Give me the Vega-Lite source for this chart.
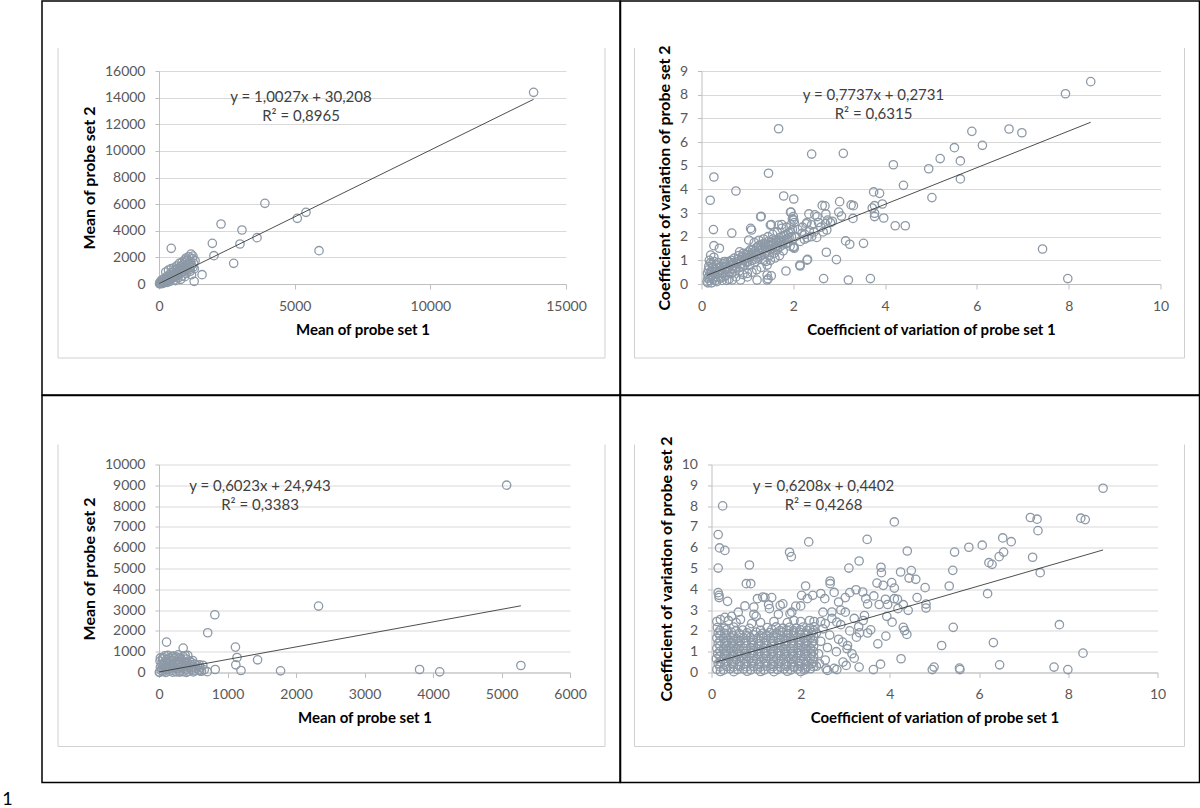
{
"$schema":"https://vega.github.io/schema/vega-lite/v6.json",
"padding":{"left":2,"top":0,"right":0,"bottom":0},
"background":"white",
"config":{
"font":"Lato",
"view":{"stroke":null},
"axis":{"domainColor":"#bfbfbf","tickColor":"#bfbfbf","gridColor":"#d9d9d9","labelColor":"#595959","labelFontSize":14,"labelFont":"Lato","titleFont":"Lato","titleFontSize":15,"titleFontWeight":"bold","titleColor":"#000000","labelFlush":false,"labelOverlap":false},
"axisX":{"grid":false,"tickSize":5,"labelPadding":10,"titlePadding":9},
"axisY":{"grid":true,"tickSize":4,"labelPadding":10,"titlePadding":7,"titleFontSize":16},
"title":{"font":"Lato"}
},
"title":{"text":"1","orient":"bottom","anchor":"start","dx":-39,"offset":8,"fontSize":18,"fontWeight":"normal","color":"#000000"},
"datasets":{
"p1":[
{"x":13806,"y":14397},{"x":3903,"y":6059},{"x":2286,"y":4507},{"x":3058,"y":4056},{"x":5417,"y":5383},{"x":5097,"y":4933},{"x":3612,"y":3480},{"x":2985,"y":3005},{"x":1966,"y":3055},{"x":2024,"y":2128},{"x":2752,"y":1552},{"x":5898,"y":2504},{"x":451,"y":2679},{"x":1587,"y":701},{"x":1296,"y":200},
{"x":20,"y":20},{"x":50,"y":60},{"x":80,"y":30},{"x":100,"y":150},{"x":130,"y":90},{"x":160,"y":200},{"x":190,"y":120},{"x":220,"y":280},{"x":250,"y":170},{"x":280,"y":350},{"x":300,"y":230},{"x":330,"y":420},{"x":360,"y":300},{"x":390,"y":500},{"x":420,"y":350},{"x":450,"y":600},{"x":480,"y":420},{"x":510,"y":680},{"x":540,"y":500},{"x":570,"y":760},{"x":600,"y":560},{"x":630,"y":850},{"x":660,"y":640},{"x":690,"y":930},{"x":720,"y":700},{"x":750,"y":1000},{"x":780,"y":780},{"x":810,"y":1100},{"x":840,"y":850},{"x":870,"y":1200},{"x":900,"y":950},{"x":930,"y":1300},{"x":960,"y":1050},{"x":1000,"y":1400},{"x":1040,"y":1150},{"x":1080,"y":1550},{"x":1120,"y":1250},{"x":1160,"y":1700},{"x":1200,"y":1400},{"x":1240,"y":1900},{"x":1280,"y":1550},{"x":1180,"y":2250},{"x":1100,"y":2050},{"x":1250,"y":2100},{"x":1050,"y":1800},{"x":980,"y":1650},{"x":880,"y":1450},{"x":780,"y":1300},{"x":680,"y":1150},{"x":580,"y":1000},{"x":480,"y":850},{"x":380,"y":700},{"x":280,"y":550},{"x":180,"y":400},{"x":100,"y":300},{"x":60,"y":200},{"x":30,"y":100},{"x":250,"y":900},{"x":350,"y":1050},{"x":450,"y":1150},{"x":550,"y":1200},{"x":650,"y":1350},{"x":750,"y":1550},{"x":850,"y":1650},{"x":950,"y":1800},{"x":400,"y":200},{"x":550,"y":300},{"x":700,"y":450},{"x":850,"y":600},{"x":1000,"y":800},{"x":1150,"y":950},{"x":1300,"y":1150},{"x":1200,"y":700},{"x":950,"y":550},{"x":800,"y":350},{"x":600,"y":250},{"x":300,"y":120},{"x":150,"y":50},{"x":1330,"y":1750},{"x":1000,"y":1950},{"x":1150,"y":1100},{"x":1250,"y":1250}
],
"p2":[
{"x":8.48,"y":8.55},{"x":7.93,"y":8.04},{"x":7.98,"y":0.23},{"x":7.43,"y":1.48},{"x":6.70,"y":6.55},{"x":6.98,"y":6.39},{"x":5.89,"y":6.45},{"x":6.12,"y":5.86},{"x":5.51,"y":5.76},{"x":5.64,"y":5.20},{"x":5.64,"y":4.44},{"x":5.20,"y":5.30},{"x":4.95,"y":4.87},{"x":5.02,"y":3.65},{"x":4.18,"y":5.04},{"x":4.40,"y":4.17},{"x":3.75,"y":3.89},{"x":3.88,"y":3.83},{"x":3.94,"y":3.38},{"x":3.97,"y":2.79},{"x":4.22,"y":2.46},{"x":4.44,"y":2.46},{"x":3.77,"y":3.31},{"x":3.72,"y":3.21},{"x":3.77,"y":2.85},{"x":3.77,"y":2.99},{"x":3.09,"y":5.52},{"x":2.40,"y":5.49},{"x":1.68,"y":6.56},{"x":1.46,"y":4.68},{"x":0.75,"y":3.93},{"x":0.27,"y":4.52},{"x":0.19,"y":3.54},{"x":0.26,"y":2.30},{"x":0.66,"y":2.15},{"x":1.09,"y":2.28},{"x":1.30,"y":2.86},{"x":1.79,"y":3.72},{"x":2.01,"y":3.59},{"x":1.95,"y":3.04},{"x":1.52,"y":2.51},{"x":1.75,"y":2.51},{"x":3.01,"y":3.48},{"x":3.26,"y":3.34},{"x":3.31,"y":3.31},{"x":2.63,"y":3.32},{"x":2.69,"y":3.30},{"x":2.34,"y":2.96},{"x":2.47,"y":2.92},{"x":2.99,"y":3.04},{"x":3.05,"y":2.87},{"x":3.30,"y":2.77},{"x":2.71,"y":2.96},{"x":2.81,"y":2.59},{"x":2.73,"y":2.28},{"x":2.72,"y":1.34},{"x":2.94,"y":1.03},{"x":3.14,"y":1.82},{"x":3.23,"y":1.68},{"x":3.53,"y":1.72},{"x":2.66,"y":0.23},{"x":3.20,"y":0.17},{"x":3.68,"y":0.23},{"x":2.31,"y":1.04},{"x":2.15,"y":0.76},{"x":1.84,"y":0.55},{"x":2.51,"y":1.97},{"x":2.24,"y":1.89},{"x":2.02,"y":1.51},{"x":2.19,"y":2.14},{"x":2.28,"y":2.54},{"x":2.52,"y":2.85},
{"x":0.2,"y":1.22},{"x":0.27,"y":1.62},{"x":0.39,"y":1.51},{"x":0.27,"y":1.13},{"x":1.29,"y":2.84},{"x":1.07,"y":2.35},{"x":1.03,"y":1.86},{"x":0.49,"y":0.94},{"x":0.83,"y":1.36},{"x":0.67,"y":0.17},{"x":0.85,"y":0.17},{"x":1.21,"y":0.17},{"x":1.43,"y":0.17},{"x":1.43,"y":0.38},{"x":1.43,"y":0.8},{"x":1.0,"y":0.45},{"x":1.5,"y":2.49},{"x":1.68,"y":2.49},{"x":1.94,"y":3.03},{"x":2.01,"y":2.7},{"x":2.01,"y":1.58},{"x":2.14,"y":0.8},{"x":2.3,"y":1.01},
{"x":0.12,"y":0.1},{"x":0.14,"y":0.25},{"x":0.13,"y":0.45},{"x":0.15,"y":0.6},{"x":0.16,"y":0.75},{"x":0.18,"y":0.15},{"x":0.2,"y":0.35},{"x":0.22,"y":0.55},{"x":0.24,"y":0.7},{"x":0.2,"y":0.9},{"x":0.17,"y":1.0},{"x":0.25,"y":0.2},{"x":0.28,"y":0.4},{"x":0.3,"y":0.6},{"x":0.32,"y":0.8},{"x":0.27,"y":0.95},{"x":0.35,"y":0.3},{"x":0.33,"y":0.1},{"x":0.14,"y":0.05},{"x":0.22,"y":0.05},{"x":0.3,"y":0.15},{"x":0.38,"y":0.5},{"x":0.4,"y":0.7},{"x":0.42,"y":0.25},
{"x":0.45,"y":0.45},{"x":0.48,"y":0.85},{"x":0.5,"y":0.6},{"x":0.52,"y":0.35},{"x":0.55,"y":0.75},{"x":0.58,"y":0.95},{"x":0.6,"y":0.5},{"x":0.63,"y":0.8},{"x":0.65,"y":1.0},{"x":0.68,"y":0.65},{"x":0.7,"y":0.9},{"x":0.72,"y":1.1},{"x":0.75,"y":0.7},{"x":0.78,"y":0.95},{"x":0.8,"y":1.05},{"x":0.82,"y":0.55},{"x":0.85,"y":0.85},{"x":0.88,"y":1.15},{"x":0.9,"y":0.75},{"x":0.92,"y":1.0},{"x":0.95,"y":1.25},{"x":0.98,"y":0.9},{"x":1.0,"y":1.1},{"x":0.6,"y":0.2},{"x":0.75,"y":0.3},{"x":0.55,"y":0.15},{"x":0.9,"y":0.4},{"x":0.45,"y":0.15},
{"x":1.02,"y":1.35},{"x":1.05,"y":0.8},{"x":1.08,"y":1.2},{"x":1.1,"y":1.0},{"x":1.12,"y":1.45},{"x":1.15,"y":0.9},{"x":1.18,"y":1.3},{"x":1.2,"y":1.55},{"x":1.22,"y":1.1},{"x":1.25,"y":1.4},{"x":1.28,"y":1.65},{"x":1.3,"y":1.2},{"x":1.33,"y":1.5},{"x":1.36,"y":1.0},{"x":1.38,"y":1.7},{"x":1.4,"y":1.35},{"x":1.43,"y":1.55},{"x":1.46,"y":1.8},{"x":1.48,"y":1.2},{"x":1.5,"y":1.45},{"x":1.53,"y":1.65},{"x":1.56,"y":1.9},{"x":1.58,"y":1.3},{"x":1.6,"y":1.55},{"x":1.63,"y":1.75},{"x":1.66,"y":1.45},{"x":1.7,"y":1.95},{"x":1.72,"y":1.6},{"x":1.75,"y":1.8},{"x":1.78,"y":1.4},{"x":1.8,"y":2.05},{"x":1.83,"y":1.7},{"x":1.86,"y":1.9},{"x":1.9,"y":2.15},{"x":1.93,"y":1.6},{"x":1.96,"y":2.0},{"x":2.0,"y":1.55},{"x":1.98,"y":2.3},{"x":1.95,"y":2.5},{"x":2.02,"y":2.6},{"x":2.0,"y":2.85},{"x":1.98,"y":2.75},{"x":1.2,"y":0.6},{"x":1.3,"y":0.7},{"x":1.1,"y":0.5},{"x":1.5,"y":1.0},{"x":1.6,"y":1.1},{"x":1.7,"y":1.2},{"x":1.4,"y":0.95},{"x":1.52,"y":0.35},{"x":1.45,"y":0.22},{"x":1.0,"y":0.3},{"x":1.15,"y":1.75},{"x":1.25,"y":1.85},{"x":1.35,"y":1.9},{"x":1.55,"y":2.1},{"x":1.65,"y":2.2},{"x":1.75,"y":2.35},{"x":1.85,"y":2.4},{"x":1.45,"y":2.0},
{"x":2.05,"y":2.0},{"x":2.1,"y":2.3},{"x":2.15,"y":1.8},{"x":2.2,"y":2.4},{"x":2.25,"y":2.1},{"x":2.3,"y":2.6},{"x":2.35,"y":2.25},{"x":2.4,"y":2.5},{"x":2.45,"y":2.2},{"x":2.55,"y":2.6},{"x":2.6,"y":2.4},{"x":2.65,"y":2.2},{"x":2.7,"y":2.55},{"x":2.75,"y":2.7},{"x":2.85,"y":2.65},{"x":2.4,"y":2.0},{"x":2.3,"y":1.95},
{"x":0.16,"y":0.32},{"x":0.19,"y":0.5},{"x":0.23,"y":0.82},{"x":0.26,"y":0.3},{"x":0.29,"y":0.5},{"x":0.34,"y":0.68},{"x":0.36,"y":0.9},{"x":0.41,"y":0.55},{"x":0.44,"y":0.75},{"x":0.47,"y":0.3},{"x":0.51,"y":0.95},{"x":0.54,"y":0.5},{"x":0.57,"y":0.65},{"x":0.62,"y":0.92},{"x":0.66,"y":0.45},{"x":0.69,"y":0.78},{"x":0.73,"y":0.55},{"x":0.77,"y":0.85},{"x":0.81,"y":1.2},{"x":0.84,"y":0.7},{"x":0.87,"y":1.0},{"x":0.91,"y":1.3},{"x":0.94,"y":0.8},{"x":0.97,"y":1.1},{"x":1.01,"y":0.95},{"x":1.04,"y":1.25},{"x":1.07,"y":1.45},{"x":1.11,"y":1.15},{"x":1.14,"y":1.35},{"x":1.17,"y":1.05},{"x":1.21,"y":1.25},{"x":1.24,"y":1.6},{"x":1.27,"y":1.3},{"x":1.31,"y":1.45},{"x":1.34,"y":1.7},{"x":1.37,"y":1.25},{"x":1.41,"y":1.6},{"x":1.44,"y":1.4},{"x":1.47,"y":1.65},{"x":1.51,"y":1.75},{"x":1.54,"y":1.5},{"x":1.57,"y":1.7},{"x":1.61,"y":1.85},{"x":1.64,"y":1.6},{"x":1.68,"y":1.85},{"x":1.71,"y":1.75},{"x":1.74,"y":2.0},{"x":1.77,"y":1.65},{"x":1.81,"y":1.85},{"x":1.84,"y":2.1},{"x":1.88,"y":1.75},{"x":1.91,"y":1.95},{"x":1.94,"y":2.2}
],
"p3":[
{"x":5075,"y":9005},{"x":2329,"y":3194},{"x":815,"y":2777},{"x":711,"y":1910},{"x":110,"y":1461},{"x":353,"y":1172},{"x":1116,"y":1220},{"x":1139,"y":722},{"x":1121,"y":369},{"x":1439,"y":610},{"x":1197,"y":96},{"x":821,"y":144},{"x":1775,"y":80},{"x":3804,"y":144},{"x":4098,"y":32},{"x":5283,"y":337},{"x":590,"y":369},{"x":705,"y":40},{"x":382,"y":819},{"x":214,"y":786},{"x":491,"y":578},{"x":595,"y":80},
{"x":10,"y":20},{"x":30,"y":100},{"x":20,"y":250},{"x":40,"y":400},{"x":15,"y":550},{"x":50,"y":650},{"x":60,"y":50},{"x":80,"y":200},{"x":70,"y":350},{"x":90,"y":500},{"x":100,"y":120},{"x":120,"y":300},{"x":110,"y":620},{"x":140,"y":450},{"x":150,"y":60},{"x":160,"y":220},{"x":170,"y":380},{"x":180,"y":560},{"x":200,"y":100},{"x":210,"y":280},{"x":220,"y":680},{"x":230,"y":450},{"x":250,"y":30},{"x":260,"y":180},{"x":270,"y":350},{"x":280,"y":520},{"x":300,"y":90},{"x":310,"y":260},{"x":320,"y":430},{"x":330,"y":620},{"x":350,"y":40},{"x":360,"y":200},{"x":370,"y":360},{"x":390,"y":120},{"x":400,"y":300},{"x":410,"y":500},{"x":430,"y":60},{"x":440,"y":220},{"x":460,"y":380},{"x":480,"y":150},{"x":500,"y":280},{"x":520,"y":80},{"x":540,"y":200},{"x":560,"y":320},{"x":300,"y":700},{"x":250,"y":750},{"x":150,"y":700},{"x":60,"y":720},{"x":20,"y":700},{"x":400,"y":650},{"x":450,"y":550},{"x":5,"y":5},{"x":100,"y":10},{"x":200,"y":15},{"x":300,"y":20},{"x":400,"y":10},{"x":500,"y":30},{"x":580,"y":120},{"x":620,"y":60},{"x":660,"y":130},{"x":130,"y":820},{"x":280,"y":850},
{"x":45,"y":180},{"x":95,"y":280},{"x":135,"y":160},{"x":190,"y":330},{"x":240,"y":250},{"x":290,"y":400},{"x":340,"y":300},{"x":380,"y":450},{"x":430,"y":330},{"x":470,"y":480},{"x":520,"y":400},{"x":600,"y":250},{"x":640,"y":350},{"x":85,"y":800},{"x":190,"y":780},{"x":350,"y":780},{"x":420,"y":820}
],
"p4":[
{"x":8.78,"y":8.86},{"x":7.15,"y":7.45},{"x":7.30,"y":7.37},{"x":7.32,"y":6.82},{"x":7.20,"y":5.54},{"x":7.37,"y":4.80},{"x":8.28,"y":7.42},{"x":8.38,"y":7.35},{"x":8.33,"y":0.93},{"x":7.80,"y":2.30},{"x":7.68,"y":0.26},{"x":7.99,"y":0.14},{"x":6.53,"y":6.47},{"x":6.72,"y":6.29},{"x":6.55,"y":5.79},{"x":6.45,"y":5.57},{"x":6.07,"y":6.12},{"x":5.77,"y":6.02},{"x":6.22,"y":5.28},{"x":6.29,"y":5.20},{"x":6.19,"y":3.79},{"x":6.32,"y":1.44},{"x":6.46,"y":0.37},{"x":5.45,"y":5.79},{"x":5.41,"y":4.91},{"x":5.33,"y":4.16},{"x":5.42,"y":2.17},{"x":5.16,"y":1.30},{"x":5.56,"y":0.21},{"x":5.57,"y":0.14},{"x":4.99,"y":0.26},{"x":4.95,"y":0.14},{"x":4.39,"y":5.84},{"x":4.10,"y":7.24},{"x":3.49,"y":6.40},{"x":2.18,"y":6.28},{"x":0.25,"y":8.01},{"x":0.15,"y":6.63},{"x":0.18,"y":5.99},{"x":0.30,"y":5.87},{"x":0.15,"y":5.02},{"x":1.75,"y":5.78},{"x":1.79,"y":5.57},{"x":0.85,"y":5.17},{"x":0.78,"y":4.27},{"x":0.88,"y":4.27},{"x":3.31,"y":5.36},{"x":3.08,"y":5.02},{"x":3.80,"y":5.06},{"x":3.81,"y":4.80},{"x":4.24,"y":4.83},{"x":4.48,"y":4.90},{"x":4.58,"y":4.48},{"x":4.43,"y":4.54},{"x":4.79,"y":4.08},{"x":4.61,"y":3.60},{"x":4.81,"y":3.29},{"x":4.81,"y":3.10},{"x":4.41,"y":2.99},{"x":4.30,"y":3.26},{"x":4.04,"y":4.32},{"x":4.10,"y":4.06},{"x":3.85,"y":4.19},{"x":3.71,"y":4.30},{"x":3.64,"y":3.68},{"x":4.10,"y":3.55},{"x":4.17,"y":3.52},{"x":3.90,"y":3.52},{"x":3.95,"y":3.27},{"x":3.76,"y":3.27},{"x":4.18,"y":3.07},{"x":4.05,"y":2.42},{"x":3.93,"y":2.70},{"x":4.30,"y":2.17},{"x":4.33,"y":2.02},{"x":4.38,"y":1.83},{"x":4.25,"y":0.66},{"x":3.91,"y":1.75},{"x":3.73,"y":1.38},{"x":3.79,"y":0.40},{"x":3.63,"y":0.14},{"x":3.57,"y":2.05},{"x":3.32,"y":1.91},{"x":3.24,"y":3.98},{"x":3.39,"y":3.87},{"x":3.46,"y":3.55},{"x":3.50,"y":3.29},{"x":3.43,"y":2.74},{"x":3.31,"y":0.26},{"x":3.02,"y":0.34},{"x":3.20,"y":0.69},{"x":2.94,"y":1.46},{"x":3.04,"y":1.14},{"x":2.85,"y":3.39},{"x":3.00,"y":3.60},{"x":3.10,"y":3.84},{"x":2.75,"y":3.85},{"x":2.66,"y":4.40},{"x":2.66,"y":4.27},{"x":2.45,"y":3.80},{"x":2.54,"y":3.55},{"x":2.27,"y":3.71},{"x":2.15,"y":3.55},{"x":2.02,"y":3.71},{"x":2.11,"y":4.16},{"x":1.89,"y":3.19},{"x":1.54,"y":3.23},{"x":1.28,"y":3.26},{"x":1.30,"y":3.07},{"x":1.15,"y":3.63},{"x":1.03,"y":3.55},{"x":0.95,"y":3.15},{"x":0.36,"y":3.42},{"x":0.15,"y":3.84},{"x":0.17,"y":3.71},{"x":0.17,"y":3.60},{"x":1.76,"y":2.83},{"x":2.70,"y":2.91},{"x":2.81,"y":2.42},{"x":2.42,"y":0.42},{"x":2.57,"y":0.18},{"x":2.81,"y":0.14},{"x":1.86,"y":0.26},{"x":2.11,"y":0.18},
{"x":0.12,"y":0.15},{"x":0.27,"y":0.12},{"x":0.42,"y":0.18},{"x":0.58,"y":0.14},{"x":0.72,"y":0.17},{"x":0.88,"y":0.13},{"x":1.03,"y":0.16},{"x":1.18,"y":0.12},{"x":1.33,"y":0.18},{"x":1.48,"y":0.14},{"x":1.63,"y":0.17},{"x":1.78,"y":0.13},{"x":1.93,"y":0.16},{"x":2.08,"y":0.12},{"x":2.22,"y":0.18},
{"x":0.15,"y":0.42},{"x":0.3,"y":0.38},{"x":0.45,"y":0.43},{"x":0.6,"y":0.37},{"x":0.75,"y":0.41},{"x":0.9,"y":0.44},{"x":1.05,"y":0.38},{"x":1.2,"y":0.42},{"x":1.35,"y":0.39},{"x":1.5,"y":0.43},{"x":1.65,"y":0.37},{"x":1.8,"y":0.41},{"x":1.95,"y":0.44},{"x":2.1,"y":0.38},{"x":2.25,"y":0.42},
{"x":0.11,"y":0.66},{"x":0.26,"y":0.63},{"x":0.41,"y":0.68},{"x":0.56,"y":0.62},{"x":0.71,"y":0.66},{"x":0.86,"y":0.69},{"x":1.01,"y":0.63},{"x":1.16,"y":0.67},{"x":1.31,"y":0.64},{"x":1.46,"y":0.68},{"x":1.61,"y":0.62},{"x":1.76,"y":0.66},{"x":1.91,"y":0.69},{"x":2.06,"y":0.63},{"x":2.21,"y":0.67},
{"x":0.14,"y":0.9},{"x":0.29,"y":0.88},{"x":0.44,"y":0.93},{"x":0.59,"y":0.87},{"x":0.74,"y":0.91},{"x":0.89,"y":0.94},{"x":1.04,"y":0.88},{"x":1.19,"y":0.92},{"x":1.34,"y":0.89},{"x":1.49,"y":0.93},{"x":1.64,"y":0.87},{"x":1.79,"y":0.91},{"x":1.94,"y":0.94},{"x":2.09,"y":0.88},{"x":2.24,"y":0.92},
{"x":0.12,"y":1.16},{"x":0.27,"y":1.13},{"x":0.42,"y":1.18},{"x":0.57,"y":1.12},{"x":0.72,"y":1.16},{"x":0.87,"y":1.19},{"x":1.02,"y":1.13},{"x":1.17,"y":1.17},{"x":1.32,"y":1.14},{"x":1.47,"y":1.18},{"x":1.62,"y":1.12},{"x":1.77,"y":1.16},{"x":1.92,"y":1.19},{"x":2.07,"y":1.13},{"x":2.22,"y":1.17},
{"x":0.15,"y":1.4},{"x":0.3,"y":1.38},{"x":0.45,"y":1.43},{"x":0.6,"y":1.37},{"x":0.75,"y":1.41},{"x":0.9,"y":1.44},{"x":1.05,"y":1.38},{"x":1.2,"y":1.42},{"x":1.35,"y":1.39},{"x":1.5,"y":1.43},{"x":1.65,"y":1.37},{"x":1.8,"y":1.41},{"x":1.95,"y":1.44},{"x":2.1,"y":1.38},{"x":2.25,"y":1.42},
{"x":0.12,"y":1.66},{"x":0.27,"y":1.63},{"x":0.42,"y":1.68},{"x":0.57,"y":1.62},{"x":0.72,"y":1.66},{"x":0.87,"y":1.69},{"x":1.02,"y":1.63},{"x":1.17,"y":1.67},{"x":1.32,"y":1.64},{"x":1.47,"y":1.68},{"x":1.62,"y":1.62},{"x":1.77,"y":1.66},{"x":1.92,"y":1.69},{"x":2.07,"y":1.63},{"x":2.22,"y":1.67},
{"x":0.15,"y":1.9},{"x":0.3,"y":1.88},{"x":0.45,"y":1.93},{"x":0.62,"y":1.87},{"x":0.8,"y":1.91},{"x":1.0,"y":1.94},{"x":1.15,"y":1.88},{"x":1.3,"y":1.92},{"x":1.45,"y":1.89},{"x":1.6,"y":1.93},{"x":1.72,"y":1.87},{"x":1.85,"y":1.91},{"x":1.97,"y":1.94},{"x":2.1,"y":1.88},{"x":2.25,"y":1.92},
{"x":0.13,"y":2.16},{"x":0.28,"y":2.13},{"x":0.5,"y":2.18},{"x":0.85,"y":2.12},{"x":1.25,"y":2.16},{"x":1.45,"y":2.19},{"x":1.6,"y":2.13},{"x":1.75,"y":2.17},{"x":1.9,"y":2.14},{"x":2.05,"y":2.18},{"x":2.2,"y":2.12},{"x":2.3,"y":2.2},
{"x":0.12,"y":2.45},{"x":0.2,"y":2.55},{"x":0.3,"y":2.65},{"x":0.38,"y":2.5},{"x":0.45,"y":2.7},{"x":0.55,"y":2.4},{"x":0.65,"y":2.55},{"x":1.4,"y":2.45},{"x":1.7,"y":2.4},{"x":1.85,"y":2.5},{"x":2.0,"y":2.45},{"x":2.2,"y":2.5},{"x":2.3,"y":2.45},{"x":0.9,"y":2.35},{"x":1.1,"y":2.4},
{"x":0.2,"y":0.05},{"x":0.5,"y":0.04},{"x":0.8,"y":0.06},{"x":1.1,"y":0.05},{"x":1.4,"y":0.04},{"x":1.7,"y":0.06},{"x":2.0,"y":0.05},
{"x":2.35,"y":0.3},{"x":2.4,"y":0.9},{"x":2.45,"y":1.5},{"x":2.5,"y":2.1},{"x":2.55,"y":0.6},{"x":2.6,"y":1.2},{"x":2.65,"y":1.8},{"x":2.7,"y":2.6},{"x":2.75,"y":0.2},{"x":2.8,"y":1.0},{"x":2.85,"y":1.6},{"x":2.9,"y":2.3},{"x":2.95,"y":0.5},{"x":3.0,"y":2.9},{"x":3.05,"y":1.3},{"x":3.1,"y":2.0},{"x":3.15,"y":0.9},{"x":3.2,"y":2.6},{"x":3.25,"y":1.7},{"x":3.3,"y":2.2},{"x":2.5,"y":2.9},{"x":2.9,"y":3.0},{"x":3.4,"y":2.5},{"x":3.5,"y":1.9},{"x":2.35,"y":1.9},{"x":2.45,"y":2.45},{"x":2.6,"y":0.1},{"x":2.55,"y":2.35},
{"x":0.6,"y":2.9},{"x":0.75,"y":3.2},{"x":1.2,"y":3.6},{"x":1.35,"y":3.6},{"x":0.95,"y":2.8},{"x":1.6,"y":3.3},{"x":1.8,"y":2.9},{"x":2.0,"y":3.2},{"x":1.0,"y":2.7},{"x":1.5,"y":2.8},
{"x":0.19,"y":0.27},{"x":0.34,"y":0.29},{"x":0.49,"y":0.26},{"x":0.64,"y":0.3},{"x":0.79,"y":0.27},{"x":0.94,"y":0.29},{"x":1.09,"y":0.26},{"x":1.24,"y":0.3},{"x":1.39,"y":0.28},{"x":1.54,"y":0.26},{"x":1.69,"y":0.29},{"x":1.84,"y":0.27},{"x":1.99,"y":0.3},{"x":2.14,"y":0.26},{"x":2.29,"y":0.28},
{"x":0.19,"y":0.52},{"x":0.34,"y":0.55},{"x":0.49,"y":0.51},{"x":0.64,"y":0.54},{"x":0.79,"y":0.53},{"x":0.94,"y":0.56},{"x":1.09,"y":0.52},{"x":1.24,"y":0.54},{"x":1.39,"y":0.51},{"x":1.54,"y":0.55},{"x":1.69,"y":0.53},{"x":1.84,"y":0.52},{"x":1.99,"y":0.56},{"x":2.14,"y":0.54},{"x":2.29,"y":0.51},
{"x":0.19,"y":0.77},{"x":0.34,"y":0.8},{"x":0.49,"y":0.76},{"x":0.64,"y":0.79},{"x":0.79,"y":0.78},{"x":0.94,"y":0.81},{"x":1.09,"y":0.77},{"x":1.24,"y":0.79},{"x":1.39,"y":0.76},{"x":1.54,"y":0.8},{"x":1.69,"y":0.78},{"x":1.84,"y":0.77},{"x":1.99,"y":0.81},{"x":2.14,"y":0.79},{"x":2.29,"y":0.76},
{"x":0.19,"y":1.02},{"x":0.34,"y":1.05},{"x":0.49,"y":1.01},{"x":0.64,"y":1.04},{"x":0.79,"y":1.03},{"x":0.94,"y":1.06},{"x":1.09,"y":1.02},{"x":1.24,"y":1.04},{"x":1.39,"y":1.01},{"x":1.54,"y":1.05},{"x":1.69,"y":1.03},{"x":1.84,"y":1.02},{"x":1.99,"y":1.06},{"x":2.14,"y":1.04},{"x":2.29,"y":1.01},
{"x":0.19,"y":1.27},{"x":0.34,"y":1.3},{"x":0.49,"y":1.26},{"x":0.64,"y":1.29},{"x":0.79,"y":1.28},{"x":0.94,"y":1.31},{"x":1.09,"y":1.27},{"x":1.24,"y":1.29},{"x":1.39,"y":1.26},{"x":1.54,"y":1.3},{"x":1.69,"y":1.28},{"x":1.84,"y":1.27},{"x":1.99,"y":1.31},{"x":2.14,"y":1.29},{"x":2.29,"y":1.26},
{"x":0.19,"y":1.52},{"x":0.34,"y":1.55},{"x":0.49,"y":1.51},{"x":0.64,"y":1.54},{"x":0.79,"y":1.53},{"x":0.94,"y":1.56},{"x":1.09,"y":1.52},{"x":1.24,"y":1.54},{"x":1.39,"y":1.51},{"x":1.54,"y":1.55},{"x":1.69,"y":1.53},{"x":1.84,"y":1.52},{"x":1.99,"y":1.56},{"x":2.14,"y":1.54},{"x":2.29,"y":1.51},
{"x":0.19,"y":1.77},{"x":0.34,"y":1.8},{"x":0.49,"y":1.76},{"x":0.64,"y":1.79},{"x":0.79,"y":1.78},{"x":0.94,"y":1.81},{"x":1.09,"y":1.77},{"x":1.24,"y":1.79},{"x":1.39,"y":1.76},{"x":1.54,"y":1.8},{"x":1.69,"y":1.78},{"x":1.84,"y":1.77},{"x":1.99,"y":1.81},{"x":2.14,"y":1.79},{"x":2.29,"y":1.76},
{"x":0.19,"y":2.02},{"x":0.34,"y":2.05},{"x":0.55,"y":2.01},{"x":0.7,"y":2.04},{"x":1.1,"y":2.03},{"x":1.35,"y":2.06},{"x":1.54,"y":2.02},{"x":1.69,"y":2.04},{"x":1.84,"y":2.01},{"x":1.99,"y":2.05},{"x":2.14,"y":2.03},{"x":2.29,"y":2.02}
]
},
"spacing":-1.5,
"vconcat":[
{"spacing":-1.5,"hconcat":[
{"width":407,"height":213,"layer":[
{"data":{"name":"p1"},"mark":{"type":"point","shape":"circle","filled":false,"size":70,"strokeWidth":1.3,"color":"#8d99a6","opacity":1},"encoding":{"x":{"field":"x","type":"quantitative","scale":{"domain":[0,15000],"nice":false,"zero":false},"axis":{"title":"Mean of probe set 1","values":[0,5000,10000,15000],"tickCount":20,"format":"d"}},"y":{"field":"y","type":"quantitative","scale":{"domain":[0,16000],"nice":false,"zero":false},"axis":{"title":"Mean of probe set 2","values":[0,2000,4000,6000,8000,10000,12000,14000,16000],"tickCount":20,"format":"d"}}}},
{"data":{"values":[{}]},"mark":{"type":"rect","fill":"transparent","stroke":"#000000","strokeWidth":1.5,"clip":false},"encoding":{"x":{"datum":-4312,"type":"quantitative"},"x2":{"datum":16990},"y":{"datum":21258,"type":"quantitative"},"y2":{"datum":-8338}}},
{"data":{"values":[{}]},"mark":{"type":"rule","color":"#d0d0d0","strokeWidth":1,"clip":false},"encoding":{"x":{"datum":-3722,"type":"quantitative"},"y":{"datum":17728,"type":"quantitative"},"y2":{"datum":-5559}}},
{"data":{"values":[{}]},"mark":{"type":"rule","color":"#d0d0d0","strokeWidth":1,"clip":false},"encoding":{"x":{"datum":16437,"type":"quantitative"},"y":{"datum":17728,"type":"quantitative"},"y2":{"datum":-5559}}},
{"data":{"values":[{}]},"mark":{"type":"rule","color":"#d0d0d0","strokeWidth":1,"clip":false},"encoding":{"x":{"datum":-3722,"type":"quantitative"},"x2":{"datum":16437},"y":{"datum":-5559,"type":"quantitative"}}},
{"data":{"values":[{"x":10,"y":40},{"x":13806,"y":13873}]},"mark":{"type":"line","color":"#3a3a3a","strokeWidth":0.9},"encoding":{"x":{"field":"x","type":"quantitative"},"y":{"field":"y","type":"quantitative"}}},
{"data":{"values":[{"t":"y = 1,0027x + 30,208\nR² = 0,8965"}]},"mark":{"type":"text","lineBreak":"\n","align":"center","baseline":"middle","fontSize":15,"lineHeight":19,"color":"#404040"},"encoding":{"x":{"datum":5233,"type":"quantitative"},"y":{"datum":14010,"type":"quantitative"},"text":{"field":"t"}}}
]},
{"width":459,"height":213,"layer":[
{"data":{"name":"p2"},"mark":{"type":"point","shape":"circle","filled":false,"size":70,"strokeWidth":1.3,"color":"#8d99a6","opacity":1},"encoding":{"x":{"field":"x","type":"quantitative","scale":{"domain":[0,10],"nice":false,"zero":false},"axis":{"title":"Coefficient of variation of probe set 1","values":[0,2,4,6,8,10],"tickCount":20,"format":"d"}},"y":{"field":"y","type":"quantitative","scale":{"domain":[0,9],"nice":false,"zero":false},"axis":{"title":"Coefficient of variation of probe set 2","values":[0,1,2,3,4,5,6,7,8,9],"tickCount":20,"format":"d"}}}},
{"data":{"values":[{}]},"mark":{"type":"rect","fill":"transparent","stroke":"#000000","strokeWidth":1.5,"clip":false},"encoding":{"x":{"datum":-1.7647,"type":"quantitative"},"x2":{"datum":10.849},"y":{"datum":11.958,"type":"quantitative"},"y2":{"datum":-4.690}}},
{"data":{"values":[{}]},"mark":{"type":"rule","color":"#d0d0d0","strokeWidth":1,"clip":false},"encoding":{"x":{"datum":-1.4597,"type":"quantitative"},"y":{"datum":9.972,"type":"quantitative"},"y2":{"datum":-3.127}}},
{"data":{"values":[{}]},"mark":{"type":"rule","color":"#d0d0d0","strokeWidth":1,"clip":false},"encoding":{"x":{"datum":10.523,"type":"quantitative"},"y":{"datum":9.972,"type":"quantitative"},"y2":{"datum":-3.127}}},
{"data":{"values":[{}]},"mark":{"type":"rule","color":"#d0d0d0","strokeWidth":1,"clip":false},"encoding":{"x":{"datum":-1.4597,"type":"quantitative"},"x2":{"datum":10.523},"y":{"datum":-3.127,"type":"quantitative"}}},
{"data":{"values":[{"x":0.12,"y":0.366},{"x":8.48,"y":6.834}]},"mark":{"type":"line","color":"#3a3a3a","strokeWidth":0.9},"encoding":{"x":{"field":"x","type":"quantitative"},"y":{"field":"y","type":"quantitative"}}},
{"data":{"values":[{"t":"y = 0,7737x + 0,2731\nR² = 0,6315"}]},"mark":{"type":"text","lineBreak":"\n","align":"center","baseline":"middle","fontSize":15,"lineHeight":19,"color":"#404040"},"encoding":{"x":{"datum":3.747,"type":"quantitative"},"y":{"datum":7.965,"type":"quantitative"},"text":{"field":"t"}}}
]}
]},
{"spacing":-1.5,"hconcat":[
{"width":411,"height":208,"layer":[
{"data":{"name":"p3"},"mark":{"type":"point","shape":"circle","filled":false,"size":70,"strokeWidth":1.3,"color":"#8d99a6","opacity":1},"encoding":{"x":{"field":"x","type":"quantitative","scale":{"domain":[0,6000],"nice":false,"zero":false},"axis":{"title":"Mean of probe set 1","values":[0,1000,2000,3000,4000,5000,6000],"tickCount":20,"format":"d"}},"y":{"field":"y","type":"quantitative","scale":{"domain":[0,10000],"nice":false,"zero":false},"axis":{"title":"Mean of probe set 2","values":[0,1000,2000,3000,4000,5000,6000,7000,8000,9000,10000],"tickCount":20,"format":"d"}}}},
{"data":{"values":[{}]},"mark":{"type":"rect","fill":"transparent","stroke":"#000000","strokeWidth":1.5,"clip":false},"encoding":{"x":{"datum":-1708,"type":"quantitative"},"x2":{"datum":6730},"y":{"datum":13317,"type":"quantitative"},"y2":{"datum":-5288}}},
{"data":{"values":[{}]},"mark":{"type":"rule","color":"#d0d0d0","strokeWidth":1,"clip":false},"encoding":{"x":{"datum":-1474.5,"type":"quantitative"},"y":{"datum":10962,"type":"quantitative"},"y2":{"datum":-3558}}},
{"data":{"values":[{}]},"mark":{"type":"rule","color":"#d0d0d0","strokeWidth":1,"clip":false},"encoding":{"x":{"datum":6511,"type":"quantitative"},"y":{"datum":10962,"type":"quantitative"},"y2":{"datum":-3558}}},
{"data":{"values":[{}]},"mark":{"type":"rule","color":"#d0d0d0","strokeWidth":1,"clip":false},"encoding":{"x":{"datum":-1474.5,"type":"quantitative"},"x2":{"datum":6511},"y":{"datum":-3558,"type":"quantitative"}}},
{"data":{"values":[{"x":5,"y":27.9},{"x":5283,"y":3207}]},"mark":{"type":"line","color":"#3a3a3a","strokeWidth":0.9},"encoding":{"x":{"field":"x","type":"quantitative"},"y":{"field":"y","type":"quantitative"}}},
{"data":{"values":[{"t":"y = 0,6023x + 24,943\nR² = 0,3383"}]},"mark":{"type":"text","lineBreak":"\n","align":"center","baseline":"middle","fontSize":15,"lineHeight":19,"color":"#404040"},"encoding":{"x":{"datum":1474.5,"type":"quantitative"},"y":{"datum":8966,"type":"quantitative"},"text":{"field":"t"}}}
]},
{"width":446,"height":208,"layer":[
{"data":{"name":"p4"},"mark":{"type":"point","shape":"circle","filled":false,"size":70,"strokeWidth":1.3,"color":"#8d99a6","opacity":1},"encoding":{"x":{"field":"x","type":"quantitative","scale":{"domain":[0,10],"nice":false,"zero":false},"axis":{"title":"Coefficient of variation of probe set 1","values":[0,2,4,6,8,10],"tickCount":20,"format":"d"}},"y":{"field":"y","type":"quantitative","scale":{"domain":[0,10],"nice":false,"zero":false},"axis":{"title":"Coefficient of variation of probe set 2","values":[0,1,2,3,4,5,6,7,8,9,10],"tickCount":20,"format":"d"}}}},
{"data":{"values":[{}]},"mark":{"type":"rect","fill":"transparent","stroke":"#000000","strokeWidth":1.5,"clip":false},"encoding":{"x":{"datum":-2.040,"type":"quantitative"},"x2":{"datum":10.942},"y":{"datum":13.317,"type":"quantitative"},"y2":{"datum":-5.288}}},
{"data":{"values":[{}]},"mark":{"type":"rule","color":"#d0d0d0","strokeWidth":1,"clip":false},"encoding":{"x":{"datum":-1.726,"type":"quantitative"},"y":{"datum":10.962,"type":"quantitative"},"y2":{"datum":-3.558}}},
{"data":{"values":[{}]},"mark":{"type":"rule","color":"#d0d0d0","strokeWidth":1,"clip":false},"encoding":{"x":{"datum":10.605,"type":"quantitative"},"y":{"datum":10.962,"type":"quantitative"},"y2":{"datum":-3.558}}},
{"data":{"values":[{}]},"mark":{"type":"rule","color":"#d0d0d0","strokeWidth":1,"clip":false},"encoding":{"x":{"datum":-1.726,"type":"quantitative"},"x2":{"datum":10.605},"y":{"datum":-3.558,"type":"quantitative"}}},
{"data":{"values":[{"x":0.1,"y":0.502},{"x":8.78,"y":5.891}]},"mark":{"type":"line","color":"#3a3a3a","strokeWidth":0.9},"encoding":{"x":{"field":"x","type":"quantitative"},"y":{"field":"y","type":"quantitative"}}},
{"data":{"values":[{"t":"y = 0,6208x + 0,4402\nR² = 0,4268"}]},"mark":{"type":"text","lineBreak":"\n","align":"center","baseline":"middle","fontSize":15,"lineHeight":19,"color":"#404040"},"encoding":{"x":{"datum":2.511,"type":"quantitative"},"y":{"datum":8.966,"type":"quantitative"},"text":{"field":"t"}}}
]}
]}
]
}
